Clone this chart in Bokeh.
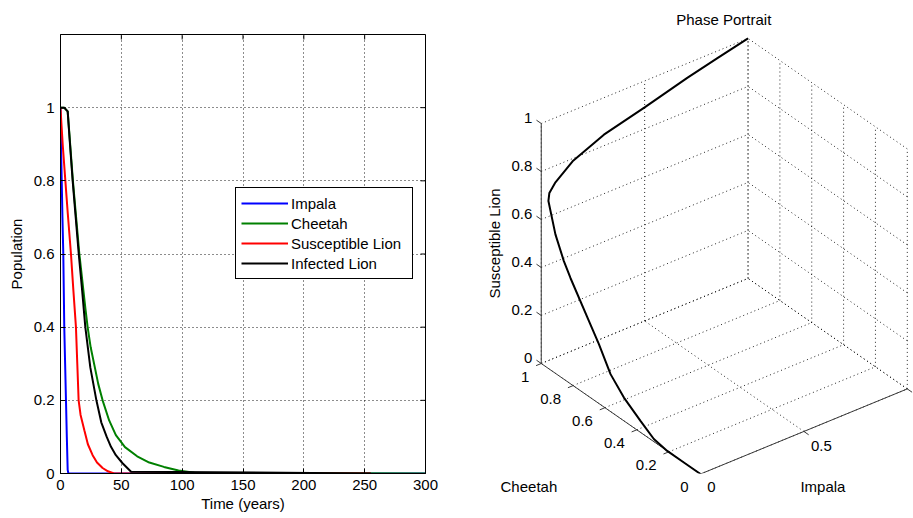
import math
from bokeh.plotting import figure
from bokeh.models import (Range1d, FixedTicker, NumeralTickFormatter, Legend,
                          LegendItem, ColumnDataSource, Label, LabelSet, LinearAxis)
from bokeh.core.properties import value
from bokeh.layouts import row
from bokeh.embed import file_html
from bokeh.resources import INLINE

FONT = "Liberation Sans"
FS = "15px"

# ---------------- data: time series (left panel) ----------------
x_ticks = [0, 50, 100, 150, 200, 250, 300]
y_ticks = [0, 0.2, 0.4, 0.6, 0.8, 1]

impala_t = [0, 0.4, 1.0, 1.6, 2.3, 3.1, 3.8, 4.5, 5.2, 5.9, 6.5, 300]
impala = [1.0, 0.9, 0.8, 0.7, 0.6, 0.4, 0.3, 0.2, 0.1, 0.01, 0.0, 0.0]

cheetah_t = [0, 3, 5.9, 10.2, 15.5, 20.5, 22.3, 24.8, 27.8, 31, 34.6, 40, 45.5,
             53, 63, 73, 85, 97, 110, 300]
cheetah = [1.0, 1.0, 0.99, 0.8, 0.6, 0.45, 0.4, 0.345, 0.297, 0.245, 0.2, 0.145,
           0.105, 0.072, 0.047, 0.03, 0.018, 0.008, 0.002, 0.0]

sus_t = [0, 0.5, 1.8, 4, 6, 8.6, 10.6, 12.7, 13.8, 14.9, 16.5, 19.6, 22.5, 26.4,
         30, 34.6, 39, 44, 255]
sus = [1.0, 0.97, 0.9, 0.8, 0.71, 0.6, 0.5, 0.4, 0.3, 0.2, 0.16, 0.118, 0.08, 0.05,
       0.03, 0.015, 0.006, 0.0, 0.0]

inf_t = [0, 3, 5.9, 7.8, 10.0, 12.5, 15.0, 17.8, 20.4, 24.5, 29.5, 33.5, 38,
         41.5, 45.5, 51, 58, 255]
inf = [1.0, 1.0, 0.99, 0.9, 0.8, 0.7, 0.6, 0.5, 0.4, 0.29, 0.2, 0.14, 0.1,
       0.073, 0.05, 0.028, 0.005, 0.0]

series_names = ["Impala", "Cheetah", "Susceptible Lion", "Infected Lion"]
series_colors = ["#0000ff", "#008000", "#ff0000", "#000000"]

# ---------------- data: phase portrait (right panel) ----------------
phase_impala = [1.0, 0.85, 0.706, 0.5, 0.303, 0.15, 0.061, 0.02, 0.0, 0.0, 0.0,
                0.0, 0.0, 0.0, 0.0, 0.0, 0.0, 0.0, 0.0, 0.0, 0.0]
phase_cheetah = [1.0, 1.0, 1.0, 1.0, 1.0, 0.998, 0.99, 0.975, 0.955, 0.911, 0.858,
                 0.816, 0.701, 0.638, 0.565, 0.481, 0.377, 0.293, 0.209, 0.1, 0.0]
phase_lion = [1.0, 0.97, 0.94, 0.89, 0.846, 0.79, 0.738, 0.715, 0.698, 0.579, 0.492,
              0.44, 0.315, 0.247, 0.156, 0.097, 0.048, 0.011, 0.0, 0.0, 0.0]

impala_grid = [0, 0.5, 1]
impala_tick_labels = ["0", "0.5"]
cheetah_grid = [0, 0.2, 0.4, 0.6, 0.8, 1]
cheetah_tick_labels = ["0", "0.2", "0.4", "0.6", "0.8", "1"]
lion_grid = [0, 0.2, 0.4, 0.6, 0.8, 1]
lion_tick_labels = ["0", "0.2", "0.4", "0.6", "0.8", "1"]

H = 518
TOP, BOTTOM = 34, 45

# ================= left panel =================
p = figure(width=440, height=H, x_range=Range1d(0, 300), y_range=Range1d(0, 1.2),
           output_backend="svg", toolbar_location=None,
           min_border_left=60, min_border_right=15, min_border_top=TOP,
           min_border_bottom=BOTTOM, x_axis_label="Time (years)", y_axis_label="Population")
p.background_fill_color = "white"
p.border_fill_color = "white"
p.outline_line_color = "black"
p.outline_line_alpha = 1
for ax in (p.xaxis[0], p.yaxis[0]):
    ax.major_tick_in = 5
    ax.major_tick_out = 0
    ax.minor_tick_line_color = None
    ax.axis_line_color = "black"
    ax.major_tick_line_color = "black"
    ax.major_label_text_font = FONT
    ax.major_label_text_font_size = FS
    ax.major_label_text_color = "black"
    ax.axis_label_text_font = FONT
    ax.axis_label_text_font_size = FS
    ax.axis_label_text_font_style = "normal"
    ax.axis_label_text_color = "black"
p.xaxis.ticker = FixedTicker(ticks=x_ticks)
p.yaxis.ticker = FixedTicker(ticks=y_ticks)
p.yaxis.formatter = NumeralTickFormatter(format="0.[0]")
p.xaxis.major_label_standoff = 6
p.yaxis.major_label_standoff = 6
p.xaxis.axis_label_standoff = 2
p.yaxis.axis_label_standoff = 6
p.grid.grid_line_color = "black"
p.grid.grid_line_dash = "1 3"
p.grid.grid_line_alpha = 0.9

# box ticks on the right and top edges
xr, yr = p.x_range, p.y_range
tick_dx = 5 * (xr.end - xr.start) / 365
tick_dy = 5 * (yr.end - yr.start) / 439
p.segment(x0=[xr.end] * len(y_ticks), y0=y_ticks,
          x1=[xr.end - tick_dx] * len(y_ticks), y1=y_ticks, line_color="black")
p.segment(x0=x_ticks, y0=[yr.end] * len(x_ticks),
          x1=x_ticks, y1=[yr.end - tick_dy] * len(x_ticks), line_color="black")

renderers = []
for (tt, vv), col in zip([(impala_t, impala), (cheetah_t, cheetah),
                          (sus_t, sus), (inf_t, inf)], series_colors):
    renderers.append(p.line(tt, vv, line_color=col, line_width=2))

legend = Legend(items=[LegendItem(label=n, renderers=[r])
                       for n, r in zip(series_names, renderers)],
                location=(175, 194))
legend.label_text_font = FONT
legend.label_text_font_size = FS
legend.label_text_color = "black"
legend.glyph_width = 47
legend.glyph_height = 20
legend.label_height = 20
legend.label_width = 116
legend.label_standoff = 3
legend.padding = 5
legend.spacing = 0
legend.margin = 0
legend.border_line_color = "black"
legend.border_line_width = 1
legend.border_line_alpha = 1
legend.background_fill_alpha = 1
p.add_layout(legend)

# ================= right panel (3-D phase portrait) =================
# frame spans the same rows as the left panel; 1 data unit = 1 pixel
q = figure(width=473, height=H, x_range=Range1d(0, 473),
           y_range=Range1d(BOTTOM, H - TOP),
           x_axis_type=None, y_axis_type=None, output_backend="svg",
           toolbar_location=None, min_border_left=0, min_border_right=0,
           min_border_top=TOP, min_border_bottom=BOTTOM)
q.outline_line_color = None
q.background_fill_color = "white"
q.border_fill_color = "white"

AZ = math.radians(-37.6)
EL = math.radians(32.3)
SCALE = 261.0
ZLEN = 240.0
ORIGIN = (260.0, 44.5)


def proj(i, c, z):
    x = ORIGIN[0] + SCALE * (math.cos(AZ) * i + math.sin(AZ) * c)
    y = ORIGIN[1] + SCALE * math.sin(EL) * (-math.sin(AZ) * i + math.cos(AZ) * c) + ZLEN * z
    return x, y


gx, gy = [], []


def gseg(a, b, xs, ys):
    x0, y0 = proj(*a)
    x1, y1 = proj(*b)
    xs.append([x0, x1])
    ys.append([y0, y1])


for i in impala_grid:
    gseg((i, 0, 0), (i, 1, 0), gx, gy)
    gseg((i, 1, 0), (i, 1, 1), gx, gy)
for c in cheetah_grid:
    gseg((0, c, 0), (1, c, 0), gx, gy)
    gseg((1, c, 0), (1, c, 1), gx, gy)
for z in lion_grid:
    gseg((0, 1, z), (1, 1, z), gx, gy)
    gseg((1, 0, z), (1, 1, z), gx, gy)
q.multi_line(gx, gy, line_color="black", line_dash="1 3", line_width=1, line_alpha=0.85)

# axis lines and ticks
ax_x, ax_y = [], []
gseg((0, 1, 0), (0, 1, 1), ax_x, ax_y)
gseg((0, 0, 0), (0, 1, 0), ax_x, ax_y)
gseg((0, 0, 0), (1, 0, 0), ax_x, ax_y)
for z in lion_grid:
    gseg((0, 1, z), (0, 1.03, z), ax_x, ax_y)
for c in cheetah_grid:
    gseg((0, c, 0), (-0.025, c, 0), ax_x, ax_y)
for i in impala_grid:
    gseg((i, 0, 0), (i, -0.03, 0), ax_x, ax_y)
q.multi_line(ax_x, ax_y, line_color="#3a3a3a", line_width=1)

# trajectory
cx, cy = zip(*[proj(i, c, z) for i, c, z in zip(phase_impala, phase_cheetah, phase_lion)])
q.line(list(cx), list(cy), line_color="black", line_width=2)


def tick_labels(points, labels, dx, dy, align):
    src = ColumnDataSource(dict(x=[t[0] + dx for t in points],
                                y=[t[1] + dy for t in points], text=labels))
    q.add_layout(LabelSet(x="x", y="y", text="text", source=src, text_align=align,
                          text_baseline="middle", text_font=value(FONT),
                          text_font_size=value(FS), text_color="black"))


# labels that fall inside the plotting frame
tick_labels([proj(0, 1, z) for z in lion_grid], lion_tick_labels, -9, 6, "right")
tick_labels([proj(0, c, 0) for c in cheetah_grid[1:]], cheetah_tick_labels[1:],
            -12, -13, "right")
tick_labels([proj(i, 0, 0) for i in impala_grid[1:len(impala_tick_labels)]],
            impala_tick_labels[1:], 7, -15, "left")

zl = proj(0, 1, 0.5)
q.add_layout(Label(x=zl[0] - 47, y=zl[1], text="Susceptible Lion", angle=math.pi / 2,
                   text_align="center", text_baseline="middle", text_font=FONT,
                   text_font_size=FS, text_color="black"))

# labels below the frame: carried by a bare axis placed at the projected positions
cl = proj(0, 0.5, 0)
c0 = proj(0, 0, 0)
il = proj(0.5, 0, 0)
bottom_pos = [cl[0] - 92, c0[0] - 16, c0[0] + 11, il[0] + 19]
bottom_text = ["Cheetah", cheetah_tick_labels[0], impala_tick_labels[0], "Impala"]
bax = LinearAxis(ticker=FixedTicker(ticks=bottom_pos),
                 major_label_overrides=dict(zip(bottom_pos, bottom_text)))
bax.axis_line_color = None
bax.major_tick_line_color = None
bax.minor_tick_line_color = None
bax.major_tick_in = 0
bax.major_tick_out = 0
bax.major_label_standoff = 4
bax.major_label_text_font = FONT
bax.major_label_text_font_size = FS
bax.major_label_text_color = "black"
q.add_layout(bax, "below")

# title, centred over the projected box (left-aligned with offset)
left_x = proj(0, 1, 0)[0]
right_x = proj(1, 0, 0)[0]
q.title.text = "Phase Portrait"
q.title.align = "left"
q.title.offset = (left_x + right_x) / 2 - 48
q.title.text_font = FONT
q.title.text_font_size = FS
q.title.text_font_style = "normal"
q.title.text_color = "black"
q.title.standoff = 13

layout = row(p, q)
open("out.html", "w").write(file_html(layout, INLINE))
